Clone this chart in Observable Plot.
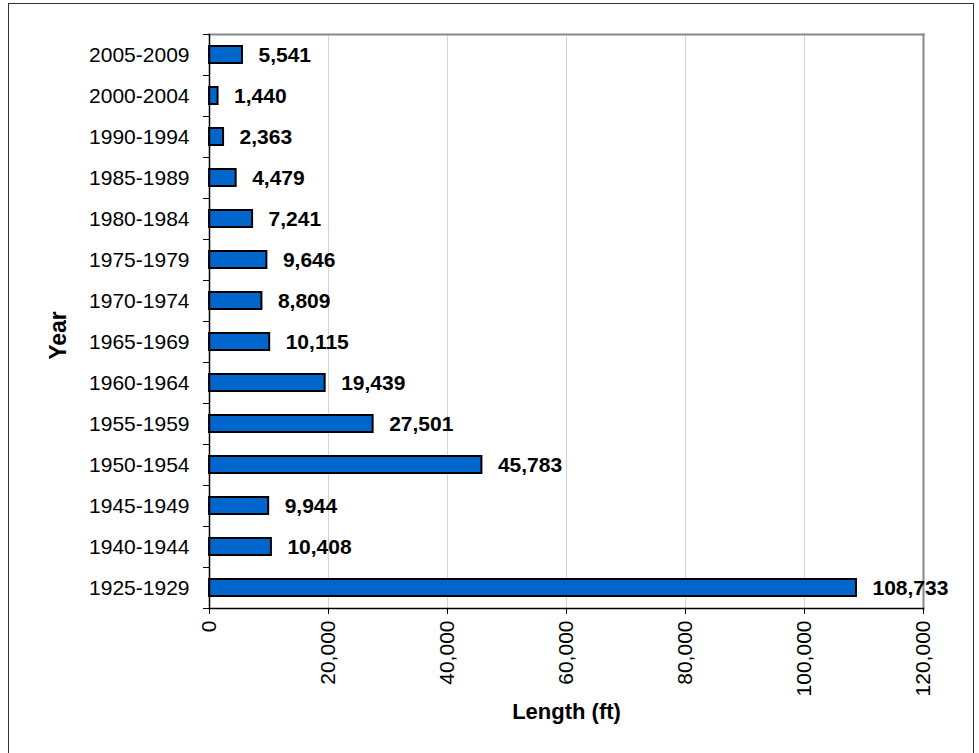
<!DOCTYPE html>
<html>
<head>
<meta charset="utf-8">
<script src="https://cdn.jsdelivr.net/npm/d3@7"></script>
<script src="https://cdn.jsdelivr.net/npm/@observablehq/plot@0.6"></script>
<style>
  html, body { margin: 0; padding: 0; background: #fff; overflow: hidden; }
  #wrap { position: relative; width: 979px; height: 753px; }
  #border { position: absolute; left: 8px; top: 3px; width: 966px; height: 800px; border: 1px solid #333; box-sizing: border-box; }
  #chart { position: absolute; left: 0; top: 0; }
</style>
</head>
<body>
<div id="wrap">
  <div id="border"></div>
  <div id="chart"></div>
</div>
<script>
const years = ["2005-2009","2000-2004","1990-1994","1985-1989","1980-1984","1975-1979","1970-1974","1965-1969","1960-1964","1955-1959","1950-1954","1945-1949","1940-1944","1925-1929"];
const lengths = [5541, 1440, 2363, 4479, 7241, 9646, 8809, 10115, 19439, 27501, 45783, 9944, 10408, 108733];
const xTicks = [0, 20000, 40000, 60000, 80000, 100000, 120000];
const xLabel = "Length (ft)";
const yLabel = "Year";

const data = years.map((y, i) => ({year: y, length: lengths[i]}));
const fmt = d3.format(",");

const chart = Plot.plot({
  width: 979,
  height: 753,
  marginLeft: 209,
  marginRight: 56,
  marginTop: 34,
  marginBottom: 145,
  style: {fontFamily: "Arial, 'Liberation Sans', sans-serif", fontSize: "21px", color: "#000", background: "transparent"},
  x: {domain: [0, 120000]},
  y: {domain: years, paddingInner: 0.58, paddingOuter: 0.29},
  marks: [
    Plot.gridX(xTicks, {stroke: "#d4d4d4", strokeOpacity: 1, strokeWidth: 1}),
    Plot.frame({anchor: "top", stroke: "#888", strokeWidth: 2}),
    Plot.frame({anchor: "right", stroke: "#888", strokeWidth: 2}),
    Plot.barX(data, {y: "year", x: "length", fill: "#0066CC", stroke: "#000", strokeWidth: 2}),
    Plot.text(data, {y: "year", x: "length", text: d => fmt(d.length), textAnchor: "start", dx: 16, fontWeight: "bold", fontSize: 21}),
    Plot.axisX({ticks: xTicks, tickFormat: fmt, tickRotate: -90, tickSize: 6, tickPadding: 6, fontSize: 21, label: xLabel, labelAnchor: "center", labelArrow: "none", labelOffset: 110}),
    Plot.axisY({tickSize: 0, tickPadding: 20, fontSize: 21, label: null}),
    Plot.axisY({tickSize: 6, text: null, dy: -20.5, label: null}),
    Plot.axisY({ticks: [years[years.length - 1]], tickSize: 6, text: null, dy: 20.5, label: null}),
    Plot.frame({anchor: "left", stroke: "#000", strokeWidth: 1.5}),
    Plot.frame({anchor: "bottom", stroke: "#000", strokeWidth: 1.5}),
    Plot.text([yLabel], {frameAnchor: "left", text: d => d, textAnchor: "middle", lineAnchor: "middle", rotate: -90, dx: -151, dy: 14, fontWeight: "bold", fontSize: 23})
  ]
});
chart.querySelectorAll("[aria-label='x-axis label'] text, [aria-label='x-axis label']").forEach(t => { t.setAttribute("font-weight", "bold"); t.setAttribute("font-size", "22"); });
document.getElementById("chart").appendChild(chart);
</script>
</body>
</html>
